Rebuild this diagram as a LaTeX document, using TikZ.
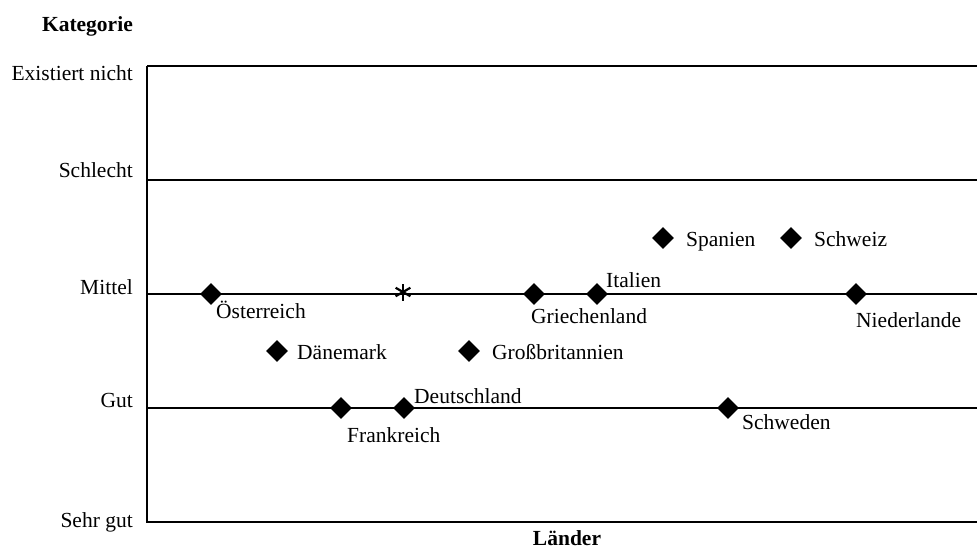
\documentclass[tikz,border=0pt]{standalone}
\usepackage{fontspec}
\setmainfont{Liberation Serif}
\usetikzlibrary{shapes.geometric}
\begin{document}
\begin{tikzpicture}[x=1pt,y=-1pt,
  every node/.style={font=\fontsize{21.5}{24}\selectfont, inner sep=0pt},
  gridline/.style={line width=1.3pt},
  pointmark/.style={diamond, fill=black, minimum width=22pt, minimum height=22pt, inner sep=0pt},
  lab/.style={anchor=base west},
  cat/.style={anchor=base east},
  axtitle/.style={font=\bfseries\fontsize{21.5}{24}\selectfont}]
\useasboundingbox (0,0) rectangle (977,552);

% frame and category lines
\coordinate (tl) at (147,66);
\coordinate (bl) at (147,522);
\draw[gridline] (tl) -- (977,66);
\draw[gridline] (147,180) -- (977,180);
\draw[gridline] (147,294) -- (977,294);
\draw[gridline] (147,408) -- (977,408);
\draw[gridline] (tl) -- (bl) -- (977,522);

% axis titles
\node[axtitle, anchor=base east] (kat) at (133,31) {Kategorie};
\node[axtitle, anchor=base] (laender) at (567,545) {Länder};

% category labels
\node[cat] (c1) at (133,80) {Existiert nicht};
\node[cat] (c2) at (133,177) {Schlecht};
\node[cat] (c3) at (133,294) {Mittel};
\node[cat] (c4) at (133,407) {Gut};
\node[cat] (c5) at (133,527) {Sehr gut};

% countries
\node[pointmark] (at) at (211,294) {};
\node[lab] (atl) at (216,318) {Österreich};
\node[pointmark] (dk) at (277,351) {};
\node[lab] (dkl) at (297,359) {Dänemark};
\node[pointmark] (fr) at (341,408) {};
\node[lab] (frl) at (347,442) {Frankreich};
\node[pointmark] (de) at (404,408) {};
\node[lab] (del) at (414,403) {Deutschland};
\node[pointmark] (gb) at (469,351) {};
\node[lab] (gbl) at (492,359) {Großbritannien};
\node[pointmark] (gr) at (534,294) {};
\node[lab] (grl) at (531,323) {Griechenland};
\node[pointmark] (it) at (597,294) {};
\node[lab] (itl) at (606,287) {Italien};
\node[pointmark] (es) at (663,238) {};
\node[lab] (esl) at (686,246) {Spanien};
\node[pointmark] (ch) at (791,238) {};
\node[lab] (chl) at (814,246) {Schweiz};
\node[pointmark] (se) at (728,408) {};
\node[lab] (sel) at (742,429) {Schweden};
\node[pointmark] (nl) at (856,294) {};
\node[lab] (nll) at (856,327) {Niederlande};

% asterisk
\coordinate (star) at (403,292);
\foreach \a in {90,30,150}
  \draw[line width=2.2pt] (star) ++(\a:8.5) -- ++(\a+180:17);
\end{tikzpicture}
\end{document}
